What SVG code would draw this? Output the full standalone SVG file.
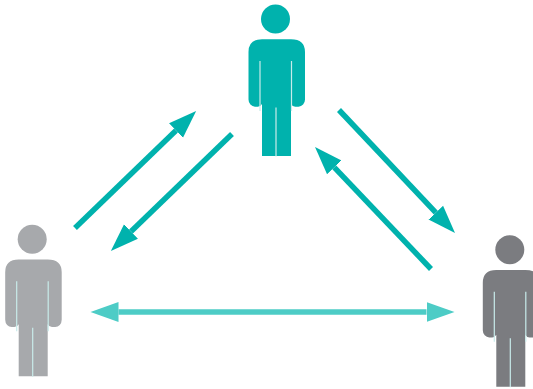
<svg xmlns="http://www.w3.org/2000/svg" width="533" height="389" viewBox="0 0 533 389">
<style>
.teal{stroke:#00b2ad;stroke-width:5.500;fill:none}
.aqua{stroke:#4dccc6;stroke-width:5.500;fill:none}
.slit{stroke:#c8ecea;stroke-width:1.200;fill:none}
</style>
<defs>
<marker id="ah" markerUnits="userSpaceOnUse" markerWidth="30" markerHeight="24" refX="0" refY="12" orient="auto"><path d="M0 2L28 12L0 22Z" fill="#00b2ad"/></marker>
<marker id="ah2" markerUnits="userSpaceOnUse" markerWidth="30" markerHeight="24" refX="0" refY="12" orient="auto-start-reverse"><path d="M0 2L28 12L0 22Z" fill="#4dccc6"/></marker>
<g id="person">
<circle cx="275.500" cy="19" r="14.500"/>
<path d="M262 39.200H291Q305 39.200 305 52V99.500A6.500 7.200 0 0 1 298.500 106.700H296A5 5 0 0 1 291 104V156H262V104A5 5 0 0 1 257 106.700H255A6.500 7.200 0 0 1 248.500 99.500V52Q248.500 39.200 262 39.200Z"/>
<path class="slit" d="M260 61V111M291.500 61V111M276 107.500V156.500"/>
</g>
</defs>
<g id="connectors">
<line class="teal" x1="75" y1="228" x2="176" y2="130.500" marker-end="url(#ah)"/>
<line class="teal" x1="232" y1="134" x2="131" y2="231.500" marker-end="url(#ah)"/>
<line class="teal" x1="339" y1="110" x2="435.800" y2="212.600" marker-end="url(#ah)"/>
<line class="teal" x1="431" y1="269" x2="334.300" y2="167.300" marker-end="url(#ah)"/>
<line class="aqua" x1="118.500" y1="312" x2="426.500" y2="312" marker-start="url(#ah2)" marker-end="url(#ah2)"/>
</g>
<g id="node-top" fill="#00b2ad"><use href="#person"/></g>
<g id="node-left" fill="#a7a9ac"><use href="#person" x="-243.300" y="220.300"/></g>
<g id="node-right" fill="#7b7c80"><use href="#person" x="234.300" y="230.700"/></g>
</svg>
